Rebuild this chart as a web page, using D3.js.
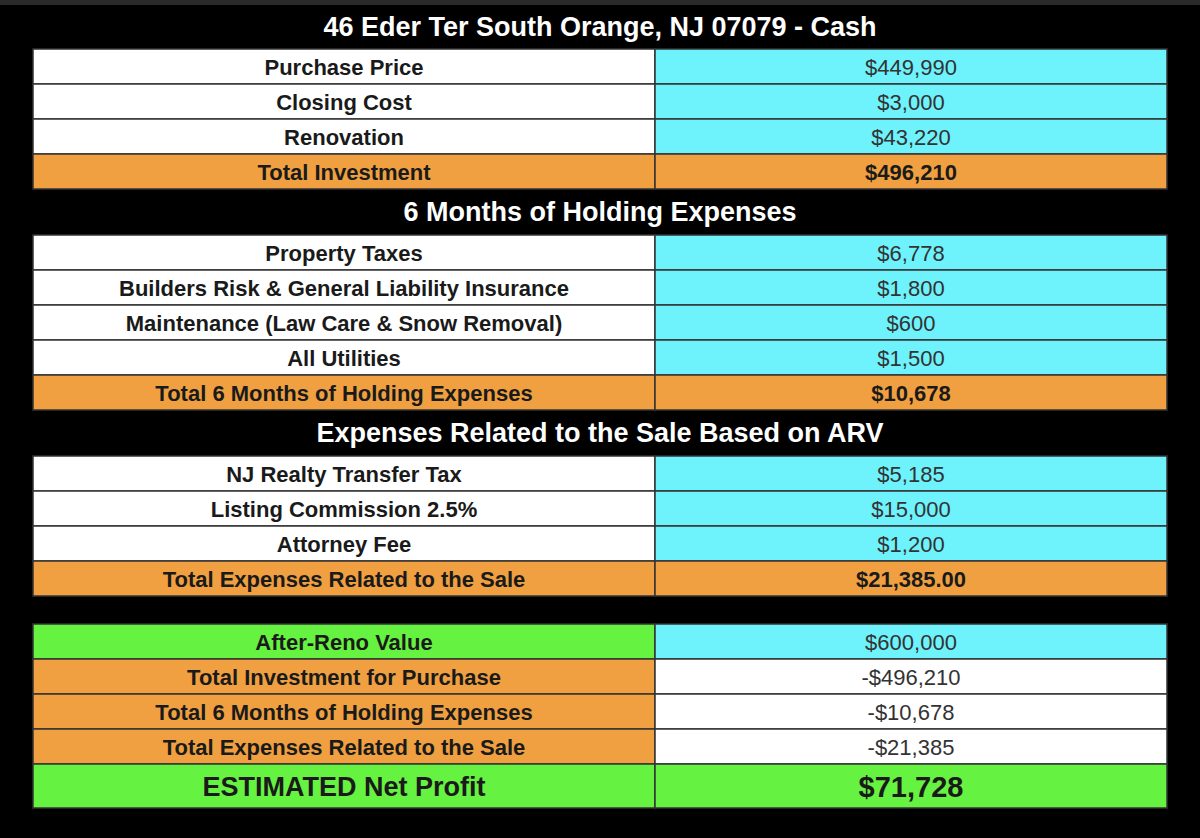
<!DOCTYPE html>
<html><head><meta charset="utf-8">
<script src="https://cdn.jsdelivr.net/npm/d3@7"></script>
<style>body{margin:0;background:#000}</style></head>
<body><svg id="c" width="1200" height="838"></svg>
<script>
const title = "46 Eder Ter South Orange, NJ 07079 - Cash";
const sec1Labels = ["Purchase Price","Closing Cost","Renovation","Total Investment"];
const sec1Values = ["$449,990","$3,000","$43,220","$496,210"];
const sec2Title = "6 Months of Holding Expenses";
const sec2Labels = ["Property Taxes","Builders Risk & General Liability Insurance","Maintenance (Law Care & Snow Removal)","All Utilities","Total 6 Months of Holding Expenses"];
const sec2Values = ["$6,778","$1,800","$600","$1,500","$10,678"];
const sec3Title = "Expenses Related to the Sale Based on ARV";
const sec3Labels = ["NJ Realty Transfer Tax","Listing Commission 2.5%","Attorney Fee","Total Expenses Related to the Sale"];
const sec3Values = ["$5,185","$15,000","$1,200","$21,385.00"];
const sec4Labels = ["After-Reno Value","Total Investment for Purchase","Total 6 Months of Holding Expenses","Total Expenses Related to the Sale","ESTIMATED Net Profit"];
const sec4Values = ["$600,000","-$496,210","-$10,678","-$21,385","$71,728"];

const W="#ffffff",C="#6ef2fb",O="#f0a040",G="#66f240";
// build layout rows: [y, h, kind, label, value, leftFill, rightFill, bold]
const rows=[];
let y=49;
function add(labels,values,lf,rf,h){labels.forEach((l,i)=>{const hh=h?h[i]:35;rows.push({y,h:hh,label:l,value:values[i],lf:lf[i],rf:rf[i],bold:false,big:false});y+=hh;});}
const heads=[{t:title,y:27}];
add(sec1Labels,sec1Values,[W,W,W,O],[C,C,C,O]);
rows[rows.length-1].bold=true;
heads.push({t:sec2Title,y:y+23}); y+=46;
add(sec2Labels,sec2Values,[W,W,W,W,O],[C,C,C,C,O]);
rows[rows.length-1].bold=true;
heads.push({t:sec3Title,y:y+23}); y+=46;
add(sec3Labels,sec3Values,[W,W,W,O],[C,C,C,O]);
rows[rows.length-1].bold=true;
y+=28;
add(sec4Labels,sec4Values,[G,O,O,O,G],[C,W,W,W,G],[35,35,35,35,44]);
rows[rows.length-1].big=true;

const x=d3.scaleLinear().domain([0,1,2]).range([33,655,1167]);
const svg=d3.select("#c");
svg.append("rect").attr("width",1200).attr("height",5).attr("fill","#2a2a2a");
svg.selectAll("text.h").data(heads).join("text").attr("x",600).attr("y",d=>d.y)
 .attr("text-anchor","middle").attr("dominant-baseline","central")
 .attr("font-family","Liberation Sans, Arial").attr("font-weight","bold").attr("font-size",27).attr("fill","#fff").text(d=>d.t);
const g=svg.selectAll("g.r").data(rows).join("g");
g.append("rect").attr("x",x(0)).attr("y",d=>d.y).attr("width",x(1)-x(0)).attr("height",d=>d.h).attr("fill",d=>d.lf).attr("stroke","#333").attr("stroke-width",1.5);
g.append("rect").attr("x",x(1)).attr("y",d=>d.y).attr("width",x(2)-x(1)).attr("height",d=>d.h).attr("fill",d=>d.rf).attr("stroke","#333").attr("stroke-width",1.5);
g.append("text").attr("x",(x(0)+x(1))/2).attr("y",d=>d.y+d.h/2+1).attr("text-anchor","middle").attr("dominant-baseline","central")
 .attr("font-family","Liberation Sans, Arial").attr("font-weight","bold").attr("font-size",d=>d.big?27:22).attr("fill","#1a1a1a").text(d=>d.label);
g.append("text").attr("x",(x(1)+x(2))/2).attr("y",d=>d.y+d.h/2+1).attr("text-anchor","middle").attr("dominant-baseline","central")
 .attr("font-family","Liberation Sans, Arial").attr("font-weight",d=>d.bold||d.big?"bold":"normal").attr("font-size",d=>d.big?29:22).attr("fill",d=>d.bold||d.big?"#1a1a1a":"#333").text(d=>d.value);
</script></body></html>
